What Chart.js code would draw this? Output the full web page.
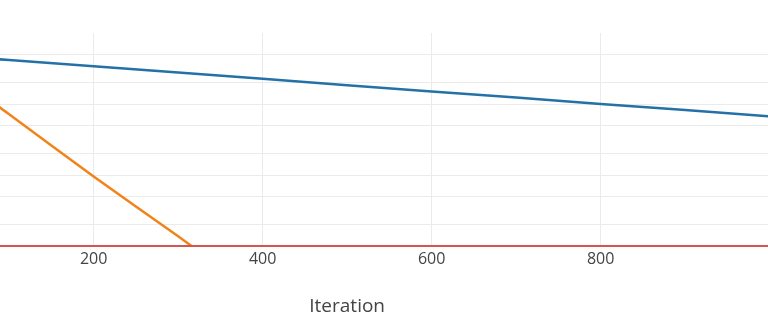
<!DOCTYPE html>
<html>
<head>
<meta charset="utf-8">
<script src="https://cdn.jsdelivr.net/npm/chart.js@4"></script>
<style>
  html, body { margin: 0; padding: 0; background: #fff; }
  #wrap { width: 768px; height: 332px; }
</style>
</head>
<body>
<div id="wrap"><canvas id="residualChart"></canvas></div>
<script>
// data (log-scale residuals)
const blueIters = [0, 100, 200, 300, 400, 500, 600, 700, 800, 900, 1000];
const blueValues = [5.09, 4.16, 3.39, 2.77, 2.26, 1.84, 1.50, 1.23, 1.00, 0.82, 0.667];

const orangeIters = [0, 50, 100, 150, 200, 250, 300, 320];
const orangeValues = [5.3, 1.95, 0.715, 0.261, 0.0955, 0.0361, 0.0137, 0.0092];

const tolIters = [0, 1000];
const tolValues = [0.01, 0.01];

const xTicks = [200, 400, 600, 800];
const yTicks = [0.02, 0.05, 0.1, 0.2, 0.5, 1, 2, 5];

// the full iteration range; the axis title sits at its middle
const iterRange = [0, 1000];

const toPoints = (xs, ys) => xs.map((x, i) => ({ x: x, y: ys[i] }));

// axis title centered on the full iteration range, not on the visible area
const xTitlePlugin = {
    id: "xTitle",
    afterDraw(chart) {
        const scale = chart.scales.x;
        const ctx = chart.ctx;
        const mid = (iterRange[0] + iterRange[1]) / 2;
        ctx.save();
        ctx.font = "19px 'Open Sans'";
        ctx.fillStyle = "#444";
        ctx.textAlign = "center";
        ctx.textBaseline = "middle";
        ctx.fillText("Iteration", scale.getPixelForValue(mid), scale.bottom - 19 * 1.2 / 2);
        ctx.restore();
    }
};

document.addEventListener("DOMContentLoaded", () => {
    const ctx = document.getElementById("residualChart");

    new Chart(ctx, {
        type: "line",
        data: {
            datasets: [
                {
                    data: toPoints(tolIters, tolValues),
                    borderColor: "#d65454",
                    borderWidth: 2,
                    pointRadius: 0,
                    clip: false
                },
                {
                    data: toPoints(blueIters, blueValues),
                    borderColor: "#2471a8",
                    borderWidth: 2.5,
                    pointRadius: 0
                },
                {
                    data: toPoints(orangeIters, orangeValues),
                    borderColor: "#f0841a",
                    borderWidth: 2.5,
                    pointRadius: 0
                }
            ]
        },
        options: {
            responsive: true,
            maintainAspectRatio: false,
            animation: false,
            layout: { padding: { left: 0, right: 0, top: 33, bottom: 14 } },
            plugins: {
                legend: { display: false },
                tooltip: { enabled: false }
            },
            scales: {
                x: {
                    type: "linear",
                    min: 89.2,
                    max: 998,
                    afterBuildTicks: axis => { axis.ticks = xTicks.map(v => ({ value: v })); },
                    grid: { color: "#ebebeb", drawTicks: false },
                    border: { display: false },
                    ticks: {
                        color: "#444",
                        padding: 4,
                        font: { family: "'Open Sans'", size: 16 }
                    },
                    // keeps the space; the text itself is drawn by xTitlePlugin
                    title: {
                        display: true,
                        text: "Iteration",
                        color: "rgba(0,0,0,0)",
                        padding: { top: 22, bottom: 0 },
                        font: { family: "'Open Sans'", size: 19 }
                    }
                },
                y: {
                    type: "logarithmic",
                    min: 0.01,
                    max: 10,
                    afterBuildTicks: axis => { axis.ticks = yTicks.map(v => ({ value: v })); },
                    grid: { color: "#ebebeb", drawTicks: false },
                    border: { display: false },
                    ticks: { display: false }
                }
            }
        },
        plugins: [xTitlePlugin]
    });
});
</script>
</body>
</html>
